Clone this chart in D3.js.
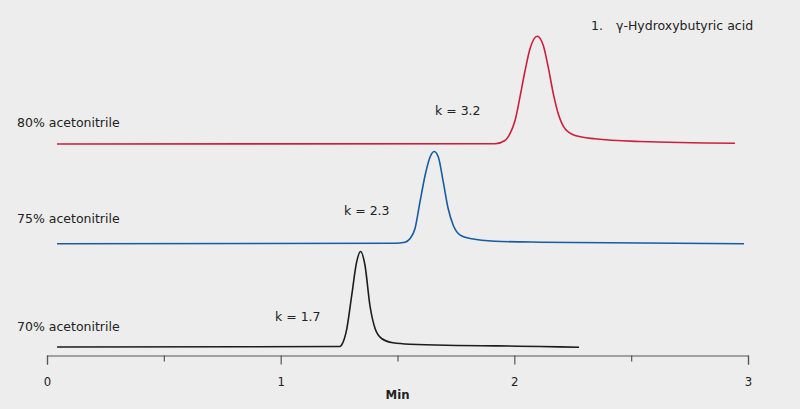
<!DOCTYPE html>
<html>
<head>
<meta charset="utf-8">
<script src="https://cdn.jsdelivr.net/npm/d3@7"></script>
<style>
    html, body { margin: 0; padding: 0; background: #ededed; }
    svg { display: block; }
    text { font-family: "DejaVu Sans", Verdana, sans-serif; fill: #222; }
</style>
</head>
<body>
<div id="chart"></div>
<script>
// Trace labels, retention factors and baseline offsets (signal units)
const traceNames = ["70% acetonitrile", "75% acetonitrile", "80% acetonitrile"];
const kLabels = ["k = 1.7", "k = 2.3", "k = 3.2"];
const offsets = [8.5, 111.7, 211.5];
const colors = ["#1c1c1c", "#155ca2", "#cc1f3c"];

// Chromatogram points: [time (min), signal above baseline]
const trace70 = [
    [0.043, 0], [1.254, 0.5], [1.262, 2.5], [1.283, 18.2], [1.304, 51.5],
    [1.325, 84.8], [1.342, 95.5], [1.361, 81.5], [1.382, 41.5], [1.404, 18.5],
    [1.432, 8.5], [1.481, 4.2], [1.553, 2.8], [2.110, 0.5], [2.277, -0.2]
];
const trace75 = [
    [0.043, 0], [1.489, 0.6], [1.532, 1.6], [1.553, 5], [1.575, 15.3],
    [1.596, 41.6], [1.618, 68.3], [1.639, 86.6], [1.657, 92.3], [1.675, 86.6],
    [1.696, 61.6], [1.717, 35], [1.739, 18.3], [1.767, 9], [1.818, 5],
    [1.917, 2.6], [2.110, 1.6], [2.983, 0]
];
const trace80 = [
    [0.043, 0], [1.917, 0.2], [1.960, 3.5], [1.981, 10.2], [2.003, 23.5],
    [2.024, 46.8], [2.046, 73.5], [2.067, 95.2], [2.098, 107.8], [2.124, 98.5],
    [2.145, 76.8], [2.167, 50.2], [2.188, 30.2], [2.217, 15.2], [2.260, 8.5],
    [2.345, 5.2], [2.538, 2.5], [2.944, 0.8]
];
const traces = [trace70, trace75, trace80];

const majorTicks = [0, 1, 2, 3];
const minorTicks = [0.5, 1.5, 2.5];
const compoundLabel = ["1.", "γ-Hydroxybutyric acid"];

const W = 800, H = 409;

const svg = d3.select("#chart")
    .append("svg")
    .attr("width", W)
    .attr("height", H);

const x = d3.scaleLinear()
    .domain([0, 3])
    .range([47, 748]);

const y = d3.scaleLinear()
    .domain([0, 330])
    .range([355.5, 25.5]);

const line = d3.line()
    .curve(d3.curveMonotoneX);

// Traces
traces.forEach((tr, i) => {
    svg.append("path")
        .datum(tr)
        .attr("fill", "none")
        .attr("stroke", colors[i])
        .attr("stroke-width", 1.6)
        .attr("stroke-linejoin", "round")
        .attr("d", line.x(d => x(d[0])).y(d => y(d[1] + offsets[i])));
});

// Trace names on the left (gap above each baseline)
const nameGap = [16, 21, 17];
traceNames.forEach((t, i) => {
    svg.append("text")
        .attr("x", 17)
        .attr("y", y(offsets[i]) - nameGap[i])
        .style("font-size", "12.5px")
        .text(t);
});

// k labels, placed left of each peak
const kPos = [[275, 321], [344, 215], [435, 115]];
kLabels.forEach((t, i) => {
    svg.append("text")
        .attr("x", kPos[i][0])
        .attr("y", kPos[i][1])
        .style("font-size", "12.5px")
        .text(t);
});

// Compound legend
svg.append("text")
    .attr("x", 591)
    .attr("y", 30)
    .style("font-size", "12.5px")
    .text(compoundLabel[0]);
svg.append("text")
    .attr("x", 616)
    .attr("y", 30)
    .style("font-size", "12.5px")
    .text(compoundLabel[1]);

// X axis
const axisY = 355.5;
const axis = svg.append("g")
    .attr("transform", `translate(0,${axisY})`);

axis.append("g")
    .call(d3.axisBottom(x).tickValues(minorTicks).tickSize(6).tickFormat(""))
    .call(g => g.select(".domain").remove());

axis.append("g")
    .call(d3.axisBottom(x).tickValues(majorTicks).tickSize(9).tickSizeOuter(9).tickPadding(12).tickFormat(d3.format("d")))
    .call(g => g.selectAll("line, path").attr("stroke", "#555").attr("stroke-width", 1.2))
    .call(g => g.selectAll("text")
        .style("font-family", "'DejaVu Sans Condensed', 'DejaVu Sans', sans-serif")
        .style("font-size", "13px")
        .attr("fill", "#222"));

axis.selectAll("line").attr("stroke", "#555").attr("stroke-width", 1.2);

svg.append("text")
    .attr("x", (x(0) + x(3)) / 2)
    .attr("y", 399)
    .attr("text-anchor", "middle")
    .style("font-family", "'DejaVu Sans Condensed', 'DejaVu Sans', sans-serif")
    .style("font-weight", "bold")
    .style("font-size", "13px")
    .text("Min");
</script>
</body>
</html>
